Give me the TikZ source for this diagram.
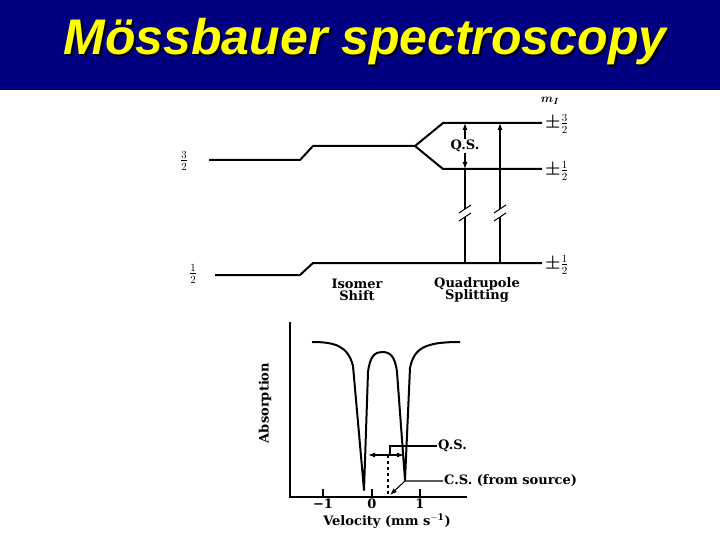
\documentclass[tikz,border=0pt]{standalone}
\usepackage{amsmath}
\usepackage{fontspec}
\setmainfont{DejaVu Serif}
\newfontfamily\titlefont{Liberation Sans}
\usetikzlibrary{arrows.meta,positioning,calc}
\definecolor{slideblue}{RGB}{0,0,128}
\definecolor{slideyellow}{RGB}{255,255,0}
\newcommand{\shadowtext}[1]{\makebox[0pt][l]{\raisebox{-2pt}{\kern2pt\color{black}#1}}#1}

\begin{document}
\begin{tikzpicture}[
    x=1pt, y=-1pt,
    level/.style={line width=2pt},
    trans/.style={line width=1.3pt},
    arr/.style={-{Latex[length=7pt,width=5pt]}, line width=1.1pt},
    dblarr/.style={{Latex[length=7pt,width=5pt]}-{Latex[length=7pt,width=5pt]}, line width=1.1pt},
    lbl/.style={font=\bfseries\fontsize{13}{14}\selectfont, align=center, inner sep=1pt},
    spin/.style={font=\bfseries\fontsize{16}{17}\selectfont, inner sep=0pt},
    heading/.style={font=\titlefont\bfseries\itshape\fontsize{50}{56}\selectfont, anchor=base}
]
\useasboundingbox (0,0) rectangle (720,540);
\fill[slideblue] (0,0) rectangle (720,90);
\node[heading, text=slideyellow] (title) at (365,55) {\shadowtext{Mössbauer spectroscopy}};

% nuclear levels
\coordinate (u0) at (209,160);
\coordinate (u1) at (300,160);
\coordinate (u2) at (313,146);
\coordinate (u3) at (415,146);
\coordinate (a0) at (443,123);
\coordinate (a1) at (542,123);
\coordinate (b0) at (443,169);
\coordinate (b1) at (542,169);
\coordinate (g0) at (215,275);
\coordinate (g1) at (300,275);
\coordinate (g2) at (313,263);
\coordinate (g3) at (542,263);
\draw[level] (u0) -- (u1) -- (u2) -- (u3) -- (a0) -- (a1);
\draw[level] (u3) -- (b0) -- (b1);
\draw[level] (g0) -- (g1) -- (g2) -- (g3);

\node[spin] (jup) at (184,161) {$\frac{3}{2}$};
\node[spin] (jlow) at (193,274) {$\frac{1}{2}$};
\node[spin, font=\fontsize{13}{14}\selectfont] (mi) at (550,101) {$\boldsymbol{m_I}$};
\node[spin, anchor=west] (pa) at (545,124) {$\boldsymbol{\pm}\frac{3}{2}$};
\node[spin, anchor=west] (pb) at (545,171) {$\boldsymbol{\pm}\frac{1}{2}$};
\node[spin, anchor=west] (pc) at (545,265) {$\boldsymbol{\pm}\frac{1}{2}$};

% transitions
\coordinate (t1top) at (465,123);
\coordinate (t1mid) at (465,169);
\coordinate (t1bot) at (465,263);
\coordinate (t2top) at (500,123);
\coordinate (t2bot) at (500,263);
\draw[dblarr] (t1top) -- (t1mid);
\node[lbl, fill=white] (qs) at (465,146) {Q.S.};
\draw[trans] (t1mid) -- (465,209);
\draw[trans] (465,217) -- (t1bot);
\draw[trans] (t2bot) -- (500,217);
\draw[arr] (500,209) -- (t2top);
\foreach \x in {465,500} {
  \draw[line width=1pt] (\x,209) ++(-6,4) -- ++(12,-8);
  \draw[line width=1pt] (\x,217) ++(-6,4) -- ++(12,-8);
}
\node[lbl] (is) at (357,290) {Isomer\\[-2pt]Shift};
\node[lbl] (qsplit) at (477,290) {Quadrupole\\[-2pt]Splitting};

% spectrum
\draw[line width=1.3pt] (290,322) -- (290,497) -- (467,497);
\foreach \x/\t in {323/−1, 372/0, 420/1} {
  \draw[line width=1.2pt] (\x,497) -- (\x,489);
  \node[lbl, anchor=north] at (\x,498) {\t};
}
\node[lbl] (vel) at (387,521) {Velocity (mm s$^{\mathbf{-1}}$)};
\node[lbl, rotate=90] (abs) at (265,403) {Absorption};
\draw[line width=2pt, line join=round] (312,342) .. controls (335,342) and (348,346) .. (353,366)
  -- (364,490) -- (368,372) .. controls (370,356) and (375,352) .. (382,352)
  .. controls (390,352) and (395,356) .. (397,372) -- (405,480) -- (410,368)
  .. controls (414,348) and (425,342) .. (460,342);

\coordinate (qsl) at (368,455);
\coordinate (qsr) at (404,455);
\draw[dblarr] (qsl) -- (qsr);
\draw[line width=1.2pt, dashed] (388,455) -- (388,497);
\node[lbl, anchor=west] (qslab) at (437,446) {Q.S.};
\draw[line width=1.2pt] (390,455) -- (390,446) -- (qslab.west);
\node[lbl, anchor=west] (cslab) at (443,481) {C.S. (from source)};
\draw[arr] (cslab.west) -- (405,481) -- (390,495);
\end{tikzpicture}
\end{document}
